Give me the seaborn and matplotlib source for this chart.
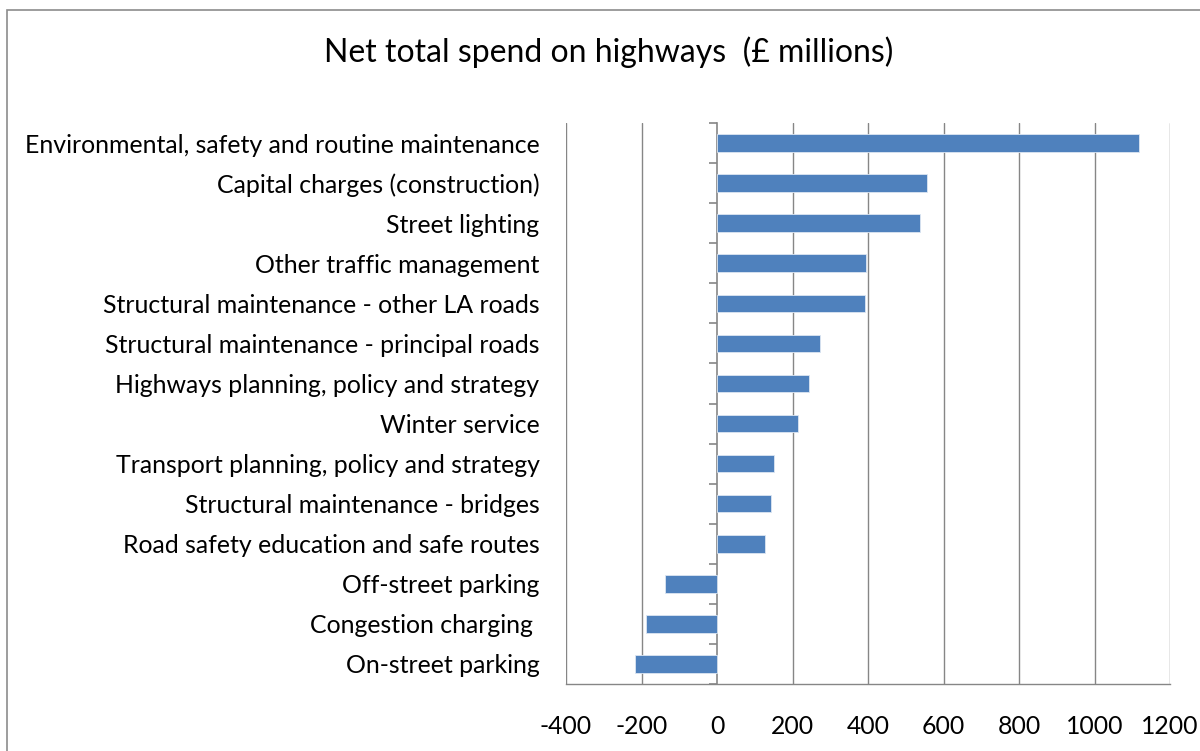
import matplotlib
matplotlib.use("Agg")
import matplotlib.pyplot as plt
from matplotlib.patches import Rectangle
from matplotlib.ticker import FixedLocator, NullFormatter
import seaborn as sns
import pandas as pd

categories = [
    "Environmental, safety and routine maintenance",
    "Capital charges (construction)",
    "Street lighting",
    "Other traffic management",
    "Structural maintenance - other LA roads",
    "Structural maintenance - principal roads",
    "Highways planning, policy and strategy",
    "Winter service",
    "Transport planning, policy and strategy",
    "Structural maintenance - bridges",
    "Road safety education and safe routes",
    "Off-street parking",
    "Congestion charging ",
    "On-street parking",
]
spend = [1119, 555, 538, 396, 393, 272, 245, 215, 151, 142, 128, -139, -189, -218]
x_ticks = [-400, -200, 0, 200, 400, 600, 800, 1000, 1200]

df = pd.DataFrame({"category": categories, "spend": spend})

sns.set_theme(style="white")
plt.rcParams["font.family"] = ["Lato", "DejaVu Sans"]

fig = plt.figure(figsize=(12, 7.51), dpi=100)
ax = fig.add_axes([566 / 1200, 1 - 684 / 751, (1170 - 566) / 1200, (684 - 123) / 751])

sns.barplot(data=df, x="spend", y="category", order=categories, orient="h",
            color="#4F81BD", width=0.44, edgecolor="#DCE6F2", linewidth=0.6,
            saturation=1, ax=ax)

grid_c = "#868686"
ax.set_xlim(-400, 1200)
ax.set_ylim(len(categories) - 0.5, -0.5)
ax.set_xticks(x_ticks)
ax.set_xticklabels([str(v) for v in x_ticks])
for v in x_ticks:
    if v != 0:
        ax.axvline(v, color=grid_c, lw=1.0, zorder=0)
ax.set_xlabel("")
ax.set_ylabel("")

for s in ["top", "right", "left"]:
    ax.spines[s].set_visible(False)
ax.spines["bottom"].set_color(grid_c)
ax.spines["bottom"].set_linewidth(1.0)

ax.tick_params(axis="x", direction="out", length=7, width=1.0, color=grid_c,
               pad=15, labelsize=17.8, labelcolor="black")
ax.tick_params(axis="y", length=0, pad=19, labelsize=17.9, labelcolor="black")

# value axis crossing at zero, with tick marks between categories
zero_ax = ax.secondary_yaxis(0.25)
zero_ax.spines["left"].set_color(grid_c)
zero_ax.spines["left"].set_linewidth(1.2)
zero_ax.yaxis.set_major_locator(FixedLocator([i - 0.5 for i in range(len(categories) + 1)]))
zero_ax.yaxis.set_major_formatter(NullFormatter())
zero_ax.tick_params(axis="y", direction="out", length=6, width=1.2, color=grid_c)

fig.text(0.507, 0.931, "Net total spend on highways  (£ millions)", ha="center",
         va="center", fontsize=23, color="black")

fig.patches.append(Rectangle((7 / 1200, -0.1), 1.2, 1.1 - 10 / 751, transform=fig.transFigure,
                             fill=False, edgecolor="#8C8C8C", lw=1.2, clip_on=False))

fig.savefig("out.png", dpi=100)
